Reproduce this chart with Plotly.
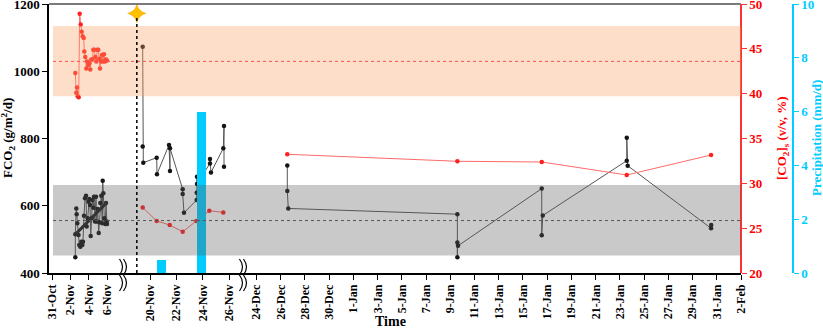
import plotly.graph_objects as go

# ---------------- data ----------------
# Segment 1 (2-6 Nov): high-frequency FCO2 (g/m2/d)
seg1_time = ["2019-11-02 13:00", "2019-11-02 13:00", "2019-11-02 15:36", "2019-11-02 16:36", "2019-11-02 18:12",
             "2019-11-02 21:24", "2019-11-02 23:24", "2019-11-03 02:06", "2019-11-03 04:42", "2019-11-03 07:18",
             "2019-11-03 09:06", "2019-11-03 11:42", "2019-11-03 14:24", "2019-11-03 17:00", "2019-11-03 18:48",
             "2019-11-03 21:24", "2019-11-03 23:30", "2019-11-04 01:36", "2019-11-04 03:24", "2019-11-04 05:18",
             "2019-11-04 07:54", "2019-11-04 09:30", "2019-11-04 12:06", "2019-11-04 13:54", "2019-11-04 16:30",
             "2019-11-04 19:06", "2019-11-04 21:00", "2019-11-04 23:36", "2019-11-05 02:12", "2019-11-05 03:48",
             "2019-11-05 06:24", "2019-11-05 09:00", "2019-11-05 11:36", "2019-11-05 12:42", "2019-11-05 14:18",
             "2019-11-05 16:54", "2019-11-05 19:30", "2019-11-05 21:18", "2019-11-05 23:12", "2019-11-05 23:54"]
seg1_fco2 = [447, 515, 592, 575, 548, 513, 483, 478, 493, 483,
             493, 570, 622, 630, 538, 563, 612, 620, 602, 510,
             563, 617, 594, 627, 553, 627, 553, 590, 519, 551,
             608, 630, 548, 674, 637, 563, 546, 608, 553, 546]
seg1_trend_time = ["2019-11-02 13:00", "2019-11-05 23:54"]
seg1_trend_fco2 = [515, 610]

# Segment 1 soil CO2 concentration (%)
seg1_co2_time = ["2019-11-02 13:00", "2019-11-02 15:36", "2019-11-02 17:24", "2019-11-02 19:18", "2019-11-02 21:54",
                 "2019-11-03 00:30", "2019-11-03 03:06", "2019-11-03 05:42", "2019-11-03 08:18", "2019-11-03 11:00",
                 "2019-11-03 12:30", "2019-11-03 15:06", "2019-11-03 17:48", "2019-11-03 20:24", "2019-11-03 23:00",
                 "2019-11-04 01:36", "2019-11-04 04:12", "2019-11-04 06:48", "2019-11-04 09:30", "2019-11-04 12:06",
                 "2019-11-04 14:42", "2019-11-04 17:18", "2019-11-04 19:54", "2019-11-04 22:30", "2019-11-05 01:12",
                 "2019-11-05 03:48", "2019-11-05 05:36", "2019-11-05 08:12", "2019-11-05 10:54", "2019-11-05 13:30",
                 "2019-11-05 16:06", "2019-11-05 18:42", "2019-11-05 21:18", "2019-11-05 23:54"]
seg1_co2 = [42.3, 40.1, 40.7, 39.7, 39.6, 48.9, 47.7, 46.9, 46.4, 46.2,
            44.7, 44.1, 42.8, 43.6, 43.2, 43.4, 42.7, 43.8, 43.8, 44.9,
            44.9, 44.1, 43.6, 44.9, 44.9, 43.9, 42.8, 43.6, 44.3, 43.6,
            44.4, 43.6, 43.8, 43.7]

# Segment 2 (19-26 Nov)
seg2_time = ["2019-11-19 10:42", "2019-11-19 10:42", "2019-11-19 11:48", "2019-11-20 12:12", "2019-11-20 12:42",
             "2019-11-21 10:38", "2019-11-21 12:27", "2019-11-21 12:27", "2019-11-22 11:35", "2019-11-22 11:35",
             "2019-11-22 13:55", "2019-11-23 13:06", "2019-11-23 13:06", "2019-11-23 13:39", "2019-11-23 13:39",
             "2019-11-24 13:20", "2019-11-24 13:20", "2019-11-24 15:07", "2019-11-25 13:35", "2019-11-25 14:52",
             "2019-11-25 14:52"]
seg2_fco2 = [1073, 776, 728, 743, 694,
             781, 703, 771, 649, 635,
             579, 617, 639, 686, 665,
             726, 739, 699, 771, 837,
             716]
seg2_co2_time = ["2019-11-19 10:42", "2019-11-20 12:12", "2019-11-21 11:56", "2019-11-22 11:35",
                 "2019-11-23 12:23", "2019-11-24 12:06", "2019-11-25 13:35"]
seg2_co2 = [27.3, 25.8, 25.35, 24.6, 25.8, 26.95, 26.75]
precip_time = ["2019-11-20 21:00", "2019-11-23 21:50"]
precip_mm = [0.5, 6.0]
event_time = ["2019-11-19 00:00"]
event_fco2 = [1172]

# Segment 3 (26 Dec - 30 Jan)
seg3_time = ["2019-12-26 13:00", "2019-12-26 13:00", "2019-12-26 15:00", "2020-01-09 14:00", "2020-01-09 14:00",
             "2020-01-09 14:00", "2020-01-09 15:20", "2020-01-16 13:10", "2020-01-16 13:10", "2020-01-16 15:10",
             "2020-01-23 13:40", "2020-01-23 13:40", "2020-01-23 15:30", "2020-01-30 12:40", "2020-01-30 13:00"]
seg3_fco2 = [720, 644, 592, 575, 447,
             491, 481, 651, 512, 571,
             734, 802, 719, 533, 543]
seg3_co2_time = ["2019-12-26 13:00", "2020-01-09 14:00", "2020-01-16 13:10", "2020-01-23 13:40", "2020-01-30 12:40"]
seg3_co2 = [33.24, 32.46, 32.38, 30.93, 33.16]

# reference bands
fco2_mean, fco2_low, fco2_high = 556, 452, 662
co2_mean, co2_low, co2_high = 43.6, 39.7, 47.55

# tick labels
seg1_ticks = ["2019-10-31", "2019-11-02", "2019-11-04", "2019-11-06"]
seg1_ticktext = ["31-Oct", "2-Nov", "4-Nov", "6-Nov"]
seg2_ticks = ["2019-11-20", "2019-11-22", "2019-11-24", "2019-11-26"]
seg2_ticktext = ["20-Nov", "22-Nov", "24-Nov", "26-Nov"]
seg3_ticks = ["2019-12-24", "2019-12-26", "2019-12-28", "2019-12-30", "2020-01-01", "2020-01-03",
              "2020-01-05", "2020-01-07", "2020-01-09", "2020-01-11", "2020-01-13", "2020-01-15",
              "2020-01-17", "2020-01-19", "2020-01-21", "2020-01-23", "2020-01-25", "2020-01-27",
              "2020-01-29", "2020-01-31", "2020-02-02"]
seg3_ticktext = ["24-Dec", "26-Dec", "28-Dec", "30-Dec", "1-Jan", "3-Jan", "5-Jan", "7-Jan", "9-Jan",
                 "11-Jan", "13-Jan", "15-Jan", "17-Jan", "19-Jan", "21-Jan", "23-Jan", "25-Jan",
                 "27-Jan", "29-Jan", "31-Jan", "2-Feb"]
fco2_ticks = [400, 600, 800, 1000, 1200]
co2_ticks = [20, 25, 30, 35, 40, 45, 50]
precip_ticks = [0, 2, 4, 6, 8, 10]

# ---------------- styling ----------------
FONT = "Liberation Serif"
BLACK_LINE = "#555555"
BLACK_MK = "#151515"
RED_LINE = "#FF6A6A"
RED_MK = "#FF2020"
RED_AX = "#FF3030"
RED_TXT = "#FF0000"
CYAN = "#00CCFF"

W, L, R, T, B, H = 823, 49, 30, 4, 57, 330
PW = W - L - R
PH = H - T - B


def px(x):
    return (x - L) / PW


def py(y):
    return (H - B - y) / PH


d1 = [0, px(123)]
d2 = [px(123), px(243)]
d3 = [px(243), px(741)]

fig = go.Figure()


def black(xs, ys, xa):
    fig.add_trace(go.Scatter(x=xs, y=ys, xaxis=xa, yaxis="y", mode="lines+markers",
                             line=dict(color=BLACK_LINE, width=1),
                             marker=dict(color=BLACK_MK, size=4.5), showlegend=False, cliponaxis=False))


def red(xs, ys, xa):
    fig.add_trace(go.Scatter(x=xs, y=ys, xaxis=xa, yaxis="y2", mode="lines+markers",
                             line=dict(color=RED_LINE, width=1),
                             marker=dict(color=RED_MK, size=4.5), showlegend=False, cliponaxis=False))


# precipitation bars
fig.add_trace(go.Bar(x=precip_time, y=precip_mm, xaxis="x2", yaxis="y3",
                     width=0.64 * 86400000, marker=dict(color=CYAN, line=dict(width=0)),
                     showlegend=False))

black(seg1_time, seg1_fco2, "x")
fig.add_trace(go.Scatter(x=seg1_trend_time, y=seg1_trend_fco2, xaxis="x", yaxis="y", mode="lines",
                         line=dict(color="#222222", width=3), showlegend=False))
red(seg1_co2_time, seg1_co2, "x")
black(seg2_time, seg2_fco2, "x2")
red(seg2_co2_time, seg2_co2, "x2")
black(seg3_time, seg3_fco2, "x3")
red(seg3_co2_time, seg3_co2, "x3")

# event star
fig.add_trace(go.Scatter(x=event_time, y=event_fco2, xaxis="x2", yaxis="y", mode="markers",
                         marker=dict(symbol="star-diamond", size=13, color="#FFC000",
                                     line=dict(color="#F0A000", width=0.5)),
                         showlegend=False, cliponaxis=False))

shapes = []
# top frame
shapes.append(dict(type="rect", xref="paper", yref="paper", x0=0, x1=px(741), y0=py(5), y1=py(3),
                   fillcolor="#7a7a7a", line=dict(width=0), layer="above"))
# bands
shapes.append(dict(type="rect", xref="paper", yref="y", x0=px(53), x1=px(741), y0=fco2_low, y1=fco2_high,
                   fillcolor="rgba(90,90,90,0.33)", line=dict(width=0), layer="above"))
shapes.append(dict(type="rect", xref="paper", yref="y2", x0=px(53), x1=px(741), y0=co2_low, y1=co2_high,
                   fillcolor="rgba(245,160,100,0.35)", line=dict(width=0), layer="above"))
shapes.append(dict(type="line", xref="paper", yref="y", x0=px(53), x1=px(741), y0=fco2_mean, y1=fco2_mean,
                   line=dict(color="#555555", width=1, dash="dot"), layer="above"))
shapes.append(dict(type="line", xref="paper", yref="y2", x0=px(53), x1=px(741), y0=co2_mean, y1=co2_mean,
                   line=dict(color="#FF5050", width=1, dash="dot"), layer="above"))
# event dotted line
shapes.append(dict(type="line", xref="x2", yref="y", x0=event_time[0], x1=event_time[0], y0=400, y1=event_fco2[0] - 12,
                   line=dict(color="black", width=1.5, dash="dot"), layer="above"))
# axis break squiggles
for cx in (119.5, 239.5):
    for dx in (0, 4):
        x = cx + dx
        path = "M {:.4f},{:.4f} Q {:.4f},{:.4f} {:.4f},{:.4f} Q {:.4f},{:.4f} {:.4f},{:.4f}".format(
            px(x), py(259), px(x + 6), py(267), px(x), py(275), px(x + 6), py(283), px(x), py(291))
        shapes.append(dict(type="path", xref="paper", yref="paper", path=path,
                           line=dict(color="black", width=1.2)))

tickfont = dict(family=FONT, size=12, color="black", weight="bold")
ytickfont = dict(family=FONT, size=13, color="black", weight="bold")
xcommon = dict(type="date", anchor="y", showline=True, linecolor="black", linewidth=1.5,
               ticks="outside", ticklen=5, tickcolor="black", tickwidth=1.2, tickangle=-90,
               tickfont=tickfont, showgrid=False, zeroline=False, automargin=False,
               ticklabeloverflow="allow")

fig.update_layout(
    template="none",
    width=W, height=H,
    margin=dict(l=L, r=R, t=T, b=B, autoexpand=False),
    paper_bgcolor="white", plot_bgcolor="white",
    font=dict(family=FONT, size=13, color="black"),
    bargap=0,
    showlegend=False,
    shapes=shapes,
    xaxis=dict(domain=d1, range=["2019-10-30 16:09", "2019-11-07 17:50"],
               tickvals=seg1_ticks, ticktext=seg1_ticktext, **xcommon),
    xaxis2=dict(domain=d2, range=["2019-11-17 22:48", "2019-11-27 01:29"],
                tickvals=seg2_ticks, ticktext=seg2_ticktext, **xcommon),
    xaxis3=dict(domain=d3, range=["2019-12-22 21:14", "2020-02-02 00:00"],
                tickvals=seg3_ticks, ticktext=seg3_ticktext, **xcommon),
    yaxis=dict(range=[400, 1200], tickvals=fco2_ticks, anchor="x", automargin=False,
               ticklabeloverflow="allow",
               showline=True, linecolor="black", linewidth=1.5, ticks="outside", ticklen=5,
               tickcolor="black", tickwidth=1.2, tickfont=ytickfont, showgrid=False, zeroline=False),
    yaxis2=dict(range=[20, 50], tickvals=co2_ticks, overlaying="y", side="right",
                anchor="free", position=px(741), automargin=False, ticklabeloverflow="allow",
                showline=True, linecolor=RED_AX, linewidth=1.5, ticks="outside", ticklen=5,
                tickcolor=RED_AX, tickwidth=1.2,
                tickfont=dict(family=FONT, size=13, color=RED_TXT, weight="bold"),
                showgrid=False, zeroline=False),
    yaxis3=dict(range=[0, 10], tickvals=precip_ticks, overlaying="y", side="right",
                anchor="free", position=1.0, automargin=False, ticklabeloverflow="allow",
                showline=True, linecolor=CYAN, linewidth=1.5, ticks="outside", ticklen=5,
                tickcolor=CYAN, tickwidth=1.2,
                tickfont=dict(family=FONT, size=13, color=CYAN, weight="bold"),
                showgrid=False, zeroline=False),
    annotations=[
        dict(text="<b>Time</b>", xref="paper", yref="paper", x=px(390), y=py(321),
             xanchor="center", yanchor="middle", showarrow=False,
             font=dict(family=FONT, size=14, color="black")),
        dict(text="<b>FCO<sub>2</sub> (g/m<sup>2</sup>/d)</b>", xref="paper", yref="paper",
             x=px(8), y=py(138), xanchor="center", yanchor="middle", textangle=-90, showarrow=False,
             font=dict(family=FONT, size=13, color="black")),
        dict(text="<b>[CO<sub>2</sub>]<sub>s</sub> (v/v, %)</b>", xref="paper", yref="paper",
             x=px(782), y=py(138), xanchor="center", yanchor="middle", textangle=-90, showarrow=False,
             font=dict(family=FONT, size=13, color=RED_TXT)),
        dict(text="<b>Precipitation (mm/d)</b>", xref="paper", yref="paper",
             x=px(816), y=py(138), xanchor="center", yanchor="middle", textangle=-90, showarrow=False,
             font=dict(family=FONT, size=13, color=CYAN)),
    ],
)

fig.write_html("out.html", config={"displayModeBar": False},
               post_script="document.body.style.margin='0';document.body.style.overflow='hidden';")
